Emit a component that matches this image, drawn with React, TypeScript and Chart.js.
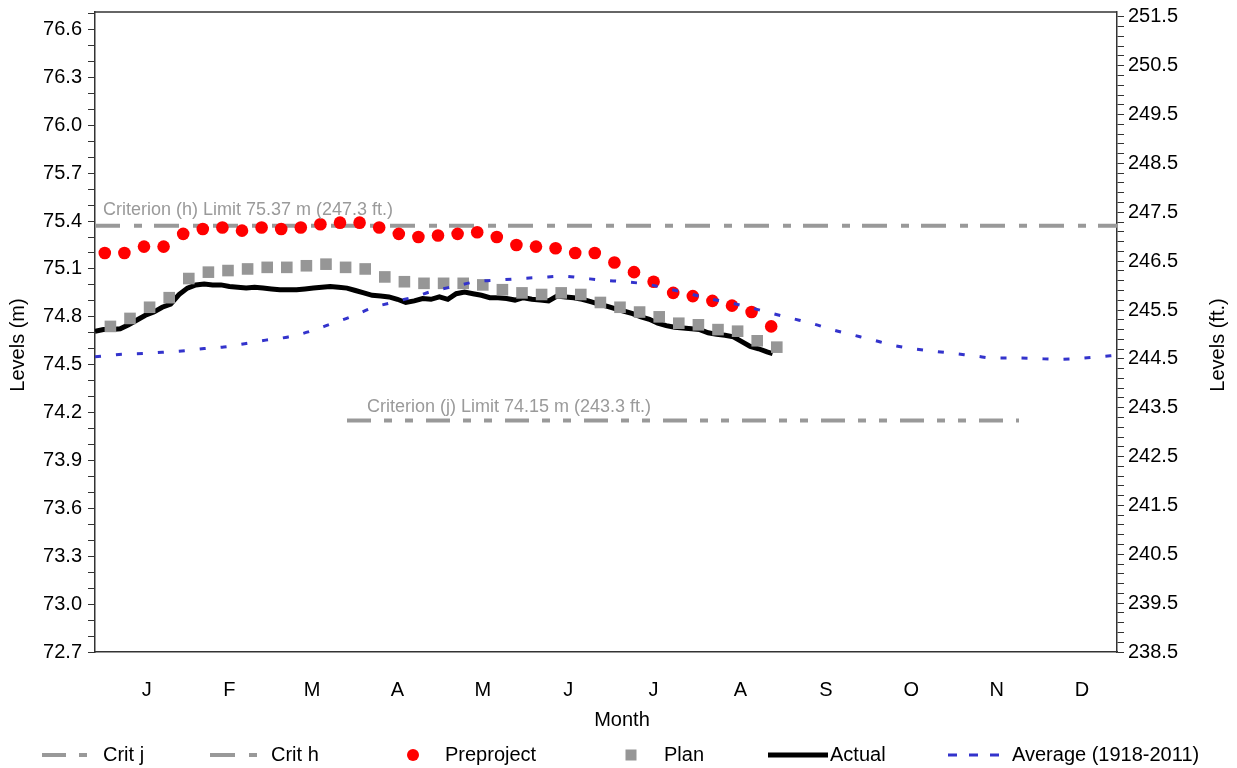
import { useEffect, useRef } from "react";
import { Chart, registerables } from "chart.js";

Chart.register(...registerables);

const FONT = '"Liberation Sans", Arial, sans-serif';

// ---- data ----
const monthLabels = ["J", "F", "M", "A", "M", "J", "J", "A", "S", "O", "N", "D"];
const monthLengths = [31, 28, 31, 30, 31, 30, 31, 31, 30, 31, 30, 31];

const preprojectFirstDay = 3.5;
const planFirstDay = 5.5;
const weekLength = 7;

const preprojectLevels = [
  75.2, 75.2, 75.24, 75.24, 75.32, 75.35, 75.36, 75.34, 75.36, 75.35,
  75.36, 75.38, 75.39, 75.39, 75.36, 75.32, 75.3, 75.31, 75.32, 75.33,
  75.3, 75.25, 75.24, 75.23, 75.2, 75.2, 75.14, 75.08, 75.02, 74.95,
  74.93, 74.9, 74.87, 74.83, 74.74,
];

const planLevels = [
  74.74, 74.79, 74.86, 74.92, 75.04, 75.08, 75.09, 75.1, 75.11, 75.11,
  75.12, 75.13, 75.11, 75.1, 75.05, 75.02, 75.01, 75.01, 75.01, 75.0,
  74.97, 74.95, 74.94, 74.95, 74.94, 74.89, 74.86, 74.83, 74.8, 74.76,
  74.75, 74.72, 74.71, 74.65, 74.61,
];

const actualDays = [
  0, 3, 6, 9, 12, 15, 18, 21, 24, 27,
  30, 33, 36, 39, 42, 45, 48, 51, 54, 57,
  60, 63, 66, 69, 72, 75, 78, 81, 84, 87,
  90, 93, 96, 99, 102, 105, 108, 111, 114, 117,
  120, 123, 126, 129, 132, 135, 138, 141, 144, 147,
  150, 153, 156, 159, 162, 165, 168, 171, 174, 177,
  180, 183, 186, 189, 192, 195, 198, 201, 204, 207,
  210, 213, 216, 219, 222, 225, 228, 231, 234, 237,
  240, 242,
];
const actualLevels = [
  74.71, 74.72, 74.72, 74.725, 74.75, 74.78, 74.81, 74.83, 74.86, 74.88,
  74.94, 74.98, 75.0, 75.005, 75.0, 75.0, 74.99, 74.985, 74.98, 74.985,
  74.98, 74.975, 74.97, 74.97, 74.97, 74.975, 74.98, 74.985, 74.99, 74.985,
  74.98, 74.965, 74.95, 74.935, 74.93, 74.925, 74.91, 74.89, 74.9, 74.915,
  74.91, 74.925, 74.91, 74.945, 74.955, 74.945, 74.935, 74.92, 74.92, 74.915,
  74.905, 74.92, 74.91, 74.905, 74.9, 74.93, 74.925, 74.92, 74.91, 74.895,
  74.88, 74.865, 74.85, 74.835, 74.82, 74.8, 74.785, 74.76, 74.745, 74.735,
  74.73, 74.725, 74.72, 74.7, 74.69, 74.685, 74.675, 74.645, 74.615, 74.6,
  74.58, 74.57,
];

const averageDays = [
  0, 10, 17, 24, 31, 39, 46, 54, 61, 69,
  77, 84, 92, 99, 107, 114, 121, 129, 136, 144,
  151, 159, 167, 174, 181, 189, 197, 204, 212, 219,
  227, 235, 242, 249, 257, 264, 271, 278, 285, 292,
  300, 307, 315, 321, 329, 336, 343, 351, 358, 365,
];
const averageLevels = [
  74.55, 74.566, 74.57, 74.578, 74.586, 74.601, 74.611, 74.633, 74.654, 74.674,
  74.71, 74.754, 74.804, 74.856, 74.894, 74.925, 74.963, 74.993, 75.02, 75.03,
  75.039, 75.047, 75.055, 75.043, 75.03, 75.02, 75.005, 74.978, 74.947, 74.915,
  74.888, 74.853, 74.821, 74.79, 74.754, 74.716, 74.685, 74.654, 74.622, 74.601,
  74.584, 74.57, 74.553, 74.542, 74.542, 74.539, 74.534, 74.539, 74.549, 74.56,
];

const critJLevel = 74.15;
const critJDays = [90, 330];
const critJText = "Criterion (j) Limit 74.15 m (243.3 ft.)";
const critHLevel = 75.37;
const critHDays = [0, 365];
const critHText = "Criterion (h) Limit 75.37 m (247.3 ft.)";

const leftMin = 72.7;
const leftMax = 76.71;
const leftMinorStep = 0.1;
const leftMinorCount = 40;
const leftLabelEvery = 3;

const rightMin = 238.5;
const rightMax = 251.6;
const rightMinorStep = 0.2;
const rightMinorCount = 65;
const rightLabelEvery = 5;

// ---- helpers ----
const weekly = (first: number, values: number[]) =>
  values.map((v, i) => ({ x: first + i * weekLength, y: v }));
const paired = (xs: number[], ys: number[]) => xs.map((x, i) => ({ x, y: ys[i] }));

const monthTickValues = () => {
  let start = 0;
  return monthLengths.map((len) => {
    const v = start + len / 2 + 3;
    start += len;
    return v;
  });
};

const overlayPlugin = {
  id: "overlay",
  afterDraw(chart: any) {
    const { ctx, chartArea } = chart;
    const xs = chart.scales.x;
    const ys = chart.scales.y;
    ctx.save();
    // top frame line
    ctx.strokeStyle = "#333";
    ctx.lineWidth = 1.5;
    ctx.beginPath();
    ctx.moveTo(chartArea.left, chartArea.top);
    ctx.lineTo(chartArea.right, chartArea.top);
    ctx.stroke();

    // criteria labels
    ctx.fillStyle = "#9a9a9a";
    ctx.font = `18px ${FONT}`;
    ctx.textAlign = "left";
    ctx.textBaseline = "middle";
    ctx.fillText(critHText, xs.getPixelForValue(critHDays[0]) + 8, ys.getPixelForValue(critHLevel) - 16);
    ctx.fillText(critJText, xs.getPixelForValue(critJDays[0]) + 20, ys.getPixelForValue(critJLevel) - 14);

    // axis titles
    ctx.fillStyle = "#000";
    ctx.font = `20px ${FONT}`;
    ctx.textAlign = "center";
    const midY = 345;
    ctx.save();
    ctx.translate(18, midY);
    ctx.rotate(-Math.PI / 2);
    ctx.fillText("Levels (m)", 0, 0);
    ctx.restore();
    ctx.save();
    ctx.translate(chart.width - 19, midY);
    ctx.rotate(-Math.PI / 2);
    ctx.fillText("Levels (ft.)", 0, 0);
    ctx.restore();
    ctx.fillText("Month", (chartArea.left + chartArea.right) / 2 + 16, 720);

    // legend
    const slots = [
      { sx: 42, tx: 103 },
      { sx: 210, tx: 271 },
      { sx: 413, tx: 445 },
      { sx: 631, tx: 664 },
      { sx: 768, tx: 830 },
      { sx: 948, tx: 1012 },
    ];
    const ly = 755;
    chart.data.datasets.forEach((ds: any, i: number) => {
      const s = slots[i];
      if (!s) return;
      if (ds.showLine === false) {
        ctx.fillStyle = ds.backgroundColor;
        if (ds.pointStyle === "rect") {
          ctx.fillRect(s.sx - 5.5, ly - 5.5, 11, 11);
        } else {
          ctx.beginPath();
          ctx.arc(s.sx, ly, 6, 0, Math.PI * 2);
          ctx.fill();
        }
      } else {
        ctx.strokeStyle = ds.borderColor;
        ctx.lineWidth = ds.borderWidth;
        ctx.setLineDash(ds.legendDash || ds.borderDash || []);
        ctx.beginPath();
        ctx.moveTo(s.sx, ly);
        ctx.lineTo(s.tx - (ds.borderDash ? 11 : 2), ly);
        ctx.stroke();
        ctx.setLineDash([]);
      }
      ctx.fillStyle = "#000";
      ctx.font = `20px ${FONT}`;
      ctx.textAlign = "left";
      ctx.textBaseline = "middle";
      ctx.fillText(ds.label, s.tx, ly);
    });
    ctx.restore();
  },
};

export default function App() {
  const canvasRef = useRef<HTMLCanvasElement | null>(null);

  useEffect(() => {
    if (!canvasRef.current) return;
    Chart.defaults.font.family = FONT;
    const chart = new Chart(canvasRef.current, {
      type: "line",
      data: {
        datasets: [
          {
            label: "Crit j",
            data: critJDays.map((d) => ({ x: d, y: critJLevel })),
            borderColor: "#999999",
            borderWidth: 4,
            borderDash: [24, 13, 8, 13, 8, 13],
            pointRadius: 0,
            showLine: true,
            order: 6,
          },
          {
            label: "Crit h",
            data: critHDays.map((d) => ({ x: d, y: critHLevel })),
            borderColor: "#999999",
            borderWidth: 4,
            borderDash: [25, 14, 8, 12],
            pointRadius: 0,
            showLine: true,
            order: 5,
          },
          {
            label: "Preproject",
            data: weekly(preprojectFirstDay, preprojectLevels),
            showLine: false,
            pointStyle: "circle",
            pointRadius: 6.3,
            backgroundColor: "#ff0000",
            borderColor: "#ff0000",
            pointBorderWidth: 0,
            order: 4,
          },
          {
            label: "Plan",
            data: weekly(planFirstDay, planLevels),
            showLine: false,
            pointStyle: "rect",
            pointRadius: 8.2,
            backgroundColor: "#969696",
            borderColor: "#969696",
            pointBorderWidth: 0,
            order: 2,
          },
          {
            label: "Actual",
            data: paired(actualDays, actualLevels),
            showLine: true,
            borderColor: "#000000",
            borderWidth: 5,
            pointRadius: 0,
            tension: 0,
            order: 3,
          },
          {
            label: "Average (1918-2011)",
            data: paired(averageDays, averageLevels),
            showLine: true,
            borderColor: "#3333cc",
            borderWidth: 3,
            borderDash: [6, 15],
            legendDash: [9, 12],
            pointRadius: 0,
            cubicInterpolationMode: "monotone",
            order: 1,
          },
        ] as any,
      },
      options: {
        responsive: false,
        animation: false,
        devicePixelRatio: 1,
        layout: { padding: { top: 12, left: 0, right: 0, bottom: 0 } },
        plugins: {
          legend: { display: false },
          tooltip: { enabled: false },
          title: { display: false },
        },
        scales: {
          x: {
            type: "linear",
            position: "bottom",
            min: 0,
            max: 365,
            grid: { display: false },
            border: { display: true, color: "#333", width: 1.5 },
            afterBuildTicks: (scale: any) => {
              scale.ticks = monthTickValues().map((v) => ({ value: v }));
            },
            afterFit: (scale: any) => {
              scale.height = 116;
              scale.paddingLeft = 0;
              scale.paddingRight = 0;
            },
            ticks: {
              autoSkip: false,
              maxRotation: 0,
              padding: 18,
              color: "#000",
              font: { size: 20, family: FONT },
              callback: (_v: any, i: number) => monthLabels[i],
            },
          },
          y: {
            type: "linear",
            position: "left",
            min: leftMin,
            max: leftMax,
            grid: { display: true, drawOnChartArea: false, drawTicks: true, tickLength: 7, color: "#333" },
            border: { display: true, color: "#333", width: 1.5 },
            afterBuildTicks: (scale: any) => {
              const t = [];
              for (let i = 0; i <= leftMinorCount; i++) {
                t.push({ value: Math.round((leftMin + i * leftMinorStep) * 10) / 10 });
              }
              scale.ticks = t;
            },
            afterFit: (scale: any) => {
              scale.width = 95;
              scale.paddingTop = 0;
              scale.paddingBottom = 0;
            },
            ticks: {
              autoSkip: false,
              padding: 6,
              color: "#000",
              font: { size: 20, family: FONT },
              callback: (v: any) => {
                const k = Math.round((v - leftMin) / leftMinorStep);
                return k % leftLabelEvery === 0 ? Number(v).toFixed(1) : "";
              },
            },
          },
          y1: {
            type: "linear",
            position: "right",
            min: rightMin,
            max: rightMax,
            grid: { display: true, drawOnChartArea: false, drawTicks: true, tickLength: 7, color: "#333" },
            border: { display: true, color: "#333", width: 1.5 },
            afterBuildTicks: (scale: any) => {
              const t = [];
              for (let i = 0; i <= rightMinorCount; i++) {
                t.push({ value: Math.round((rightMin + i * rightMinorStep) * 10) / 10 });
              }
              scale.ticks = t;
            },
            afterFit: (scale: any) => {
              scale.width = 120;
              scale.paddingTop = 0;
              scale.paddingBottom = 0;
            },
            ticks: {
              autoSkip: false,
              padding: 4,
              color: "#000",
              font: { size: 20, family: FONT },
              callback: (v: any) => {
                const k = Math.round((v - rightMin) / rightMinorStep);
                return k % rightLabelEvery === 0 ? Number(v).toFixed(1) : "";
              },
            },
          },
        },
      } as any,
      plugins: [overlayPlugin],
    });
    return () => chart.destroy();
  }, []);

  return (
    <div style={{ position: "fixed", left: 0, top: 0, width: 1237, height: 768, background: "#fff" }}>
      <canvas ref={canvasRef} width={1237} height={768} style={{ display: "block" }} />
    </div>
  );
}
